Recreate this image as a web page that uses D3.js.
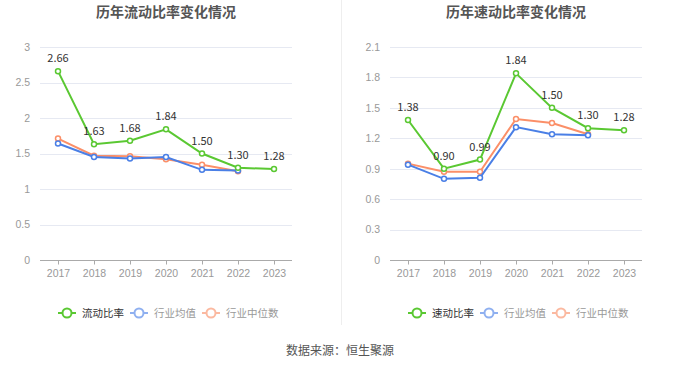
<!DOCTYPE html>
<html>
<head>
<meta charset="utf-8">
<script src="https://cdn.jsdelivr.net/npm/d3@7"></script>
<style>
  body { margin: 0; background: #fff; font-family: "Noto Sans CJK SC", "Noto Sans", sans-serif; }
</style>
</head>
<body>
<div id="chart"></div>
<script>
// data
const years = ['2017', '2018', '2019', '2020', '2021', '2022', '2023'];

const currentRatio = [2.66, 1.63, 1.68, 1.84, 1.50, 1.30, 1.28];
const currentIndustryMean = [1.64, 1.45, 1.43, 1.45, 1.27, 1.26];
const currentIndustryMedian = [1.71, 1.47, 1.46, 1.42, 1.34, 1.25];
const currentTicks = [0, 0.5, 1, 1.5, 2, 2.5, 3];

const quickRatio = [1.38, 0.90, 0.99, 1.84, 1.50, 1.30, 1.28];
const quickIndustryMean = [0.94, 0.80, 0.81, 1.31, 1.24, 1.23];
const quickIndustryMedian = [0.95, 0.87, 0.87, 1.39, 1.35, 1.24];
const quickTicks = [0, 0.3, 0.6, 0.9, 1.2, 1.5, 1.8, 2.1];

const svg = d3.select('#chart').append('svg').attr('width', 680).attr('height', 367);

// divider between the two panels
svg.append('line')
    .attr('x1', 341.5).attr('x2', 341.5)
    .attr('y1', 0).attr('y2', 325)
    .attr('stroke', '#eeeeee');

svg.append('text')
    .attr('x', 340).attr('y', 355)
    .attr('text-anchor', 'middle')
    .style('font-size', '12px')
    .style('fill', '#555')
    .text('数据来源：恒生聚源');

function drawPanel(offsetX, opts) {
    const g = svg.append('g').attr('transform', `translate(${offsetX},0)`);
    const left = opts.left, right = opts.right, top = 47, bottom = 260;

    const x = d3.scalePoint().domain(years).range([left, right]).padding(0.5);
    const y = d3.scaleLinear().domain([0, opts.max]).range([bottom, top]);

    g.append('text')
        .attr('x', opts.titleX).attr('y', 17)
        .attr('text-anchor', 'middle')
        .style('font-size', '14px')
        .style('font-weight', 'bold')
        .style('fill', '#555')
        .text(opts.title);

    // grid
    g.selectAll('.grid')
        .data(opts.ticks.filter(d => d > 0))
        .enter().append('line')
        .attr('x1', left).attr('x2', right)
        .attr('y1', d => Math.round(y(d)) + 0.5).attr('y2', d => Math.round(y(d)) + 0.5)
        .attr('stroke', '#e6e9f2');

    const yAxis = g.append('g')
        .attr('transform', `translate(${left},0)`)
        .call(d3.axisLeft(y).tickValues(opts.ticks).tickSize(0).tickPadding(10).tickFormat(d => String(d)));
    yAxis.select('.domain').remove();
    yAxis.selectAll('text').style('font-size', '10.5px').style('fill', '#999').style('font-family', 'inherit');

    const xAxis = g.append('g')
        .attr('transform', `translate(0,${bottom + 0.5})`)
        .call(d3.axisBottom(x).tickSize(4).tickPadding(5));
    xAxis.select('.domain').attr('stroke', '#aaa').attr('d', `M${left},0H${right}`);
    xAxis.selectAll('.tick line').attr('stroke', '#aaa');
    xAxis.selectAll('text').style('font-size', '10.5px').style('fill', '#999').style('font-family', 'inherit');

    const series = [
        {vals: opts.median, color: '#fb8f68'},
        {vals: opts.mean, color: '#4a7fe6'},
        {vals: opts.main, color: '#5ac832'}
    ];

    const line = d3.line().x((d, i) => x(years[i])).y(d => y(d));

    series.forEach(s => {
        g.append('path')
            .datum(s.vals)
            .attr('d', line)
            .attr('fill', 'none')
            .attr('stroke', s.color)
            .attr('stroke-width', 2);
        g.selectAll(null)
            .data(s.vals)
            .enter().append('circle')
            .attr('cx', (d, i) => x(years[i]))
            .attr('cy', d => y(d))
            .attr('r', 2.5)
            .attr('fill', '#fff')
            .attr('stroke', s.color)
            .attr('stroke-width', 1.5);
    });

    g.selectAll('.label')
        .data(opts.main)
        .enter().append('text')
        .attr('x', (d, i) => x(years[i]))
        .attr('y', d => y(d) - 9)
        .attr('text-anchor', 'middle')
        .style('font-size', '11px')
        .style('fill', '#333')
        .text(d => d.toFixed(2));

    // legend
    const legend = [
        {name: opts.mainName, color: '#5ac832', textColor: '#333', x: opts.legendX},
        {name: '行业均值', color: '#8fb0f0', textColor: '#999', x: opts.legendX + 72},
        {name: '行业中位数', color: '#fbb9a0', textColor: '#999', x: opts.legendX + 144}
    ];
    legend.forEach(l => {
        const lg = g.append('g').attr('transform', `translate(${l.x},313)`);
        lg.append('line').attr('x1', 0).attr('x2', 18).attr('y1', 0).attr('y2', 0)
            .attr('stroke', l.color).attr('stroke-width', 2);
        lg.append('circle').attr('cx', 9).attr('cy', 0).attr('r', 4.5)
            .attr('fill', '#fff').attr('stroke', l.color).attr('stroke-width', 2);
        lg.append('text').attr('x', 24).attr('y', 4)
            .style('font-size', '10.5px').style('fill', l.textColor)
            .text(l.name);
    });
}

drawPanel(0, {
    title: '历年流动比率变化情况', titleX: 166,
    left: 40, right: 292, max: 3, ticks: currentTicks,
    main: currentRatio, mean: currentIndustryMean, median: currentIndustryMedian,
    mainName: '流动比率', legendX: 58
});

drawPanel(340, {
    title: '历年速动比率变化情况', titleX: 176,
    left: 50, right: 302, max: 2.1, ticks: quickTicks,
    main: quickRatio, mean: quickIndustryMean, median: quickIndustryMedian,
    mainName: '速动比率', legendX: 68
});
</script>
</body>
</html>
